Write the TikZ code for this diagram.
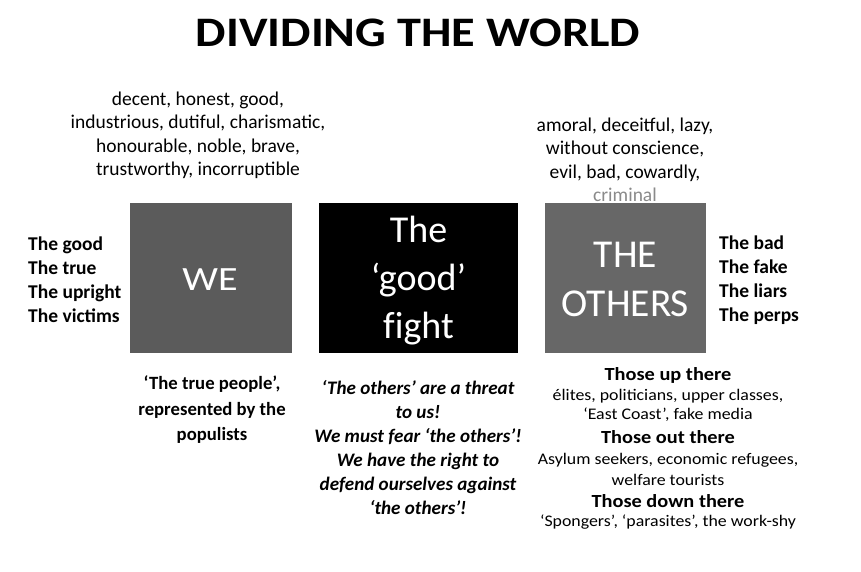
\documentclass[tikz,border=0pt]{standalone}
\usepackage{fontspec}
\setmainfont{Carlito}
\newfontfamily\titlefont{Carlito}[FakeStretch=1.15]
\newfontfamily\subfont{Carlito}[FakeStretch=1.1]
\newfontfamily\nolig{Carlito}[Ligatures=CommonOff]
\definecolor{wegray}{HTML}{5B5B5B}
\definecolor{othgray}{HTML}{676767}
\definecolor{crimgray}{HTML}{8A8A8A}
\begin{document}
\begin{tikzpicture}[x=1pt,y=-1pt,
  box/.style={draw=none,minimum height=150pt,inner sep=0pt},
  boxtext/.style={inner sep=0pt,text=white,align=center},
  small/.style={inner sep=0pt,align=center,font=\fontsize{19.5}{23.5}\selectfont},
  label/.style={inner sep=0pt,align=left,anchor=west,font=\fontsize{19.5}{24}\selectfont\bfseries},
  head/.style={inner sep=0pt,font=\subfont\fontsize{18.5}{20}\selectfont\bfseries},
  sub/.style={inner sep=0pt,align=center,font=\subfont\fontsize{16.2}{20}\selectfont}]
\useasboundingbox[fill=white] (0,0) rectangle (861,572);
\node[inner sep=0pt,anchor=base,font=\titlefont\fontsize{42}{48}\selectfont\bfseries] (title) at (418,47) {DIVIDING THE WORLD};

\node[box,fill=wegray,minimum width=162pt] (we) at (211,278) {};
\node[box,fill=black,minimum width=199pt] (fight) at (418.5,278) {};
\node[box,fill=othgray,minimum width=161pt] (others) at (625.5,278) {};
\node[boxtext,anchor=base,font=\fontsize{34}{40}\selectfont] (wet) at (210,290.5) {\scalebox{1.18}[1]{WE}};
\node[boxtext,font=\nolig\fontsize{38}{48}\selectfont] (fightt) at (418.5,281) {The\\‘good’\\fight};
\node[boxtext,font=\fontsize{39.5}{49}\selectfont] (otherst) at (625.5,279) {THE\\OTHERS};

\node[small] (weadj) at (198,135.5) {decent, honest, good,\\industrious, dutiful, charismatic,\\honourable, noble, brave,\\trustworthy, incorruptible};
\node[small] (othadj) at (625,149.5) {amoral, deceitful, lazy,\\without conscience,\\evil, bad, cowardly,};
\node[small,text=crimgray] (crim) at (625,195) {criminal};

\node[label] (welab) at (28,279.5) {The good\\The true\\The upright\\The victims};
\node[label] (othlab) at (719,280) {The bad\\The fake\\The liars\\The perps};

\node[small,font=\fontsize{18.7}{25.5}\selectfont\bfseries] (wepeople) at (212,410) {‘The true people’,\\represented by the\\populists};
\node[small,font=\fontsize{19.1}{24}\selectfont\bfseries\itshape] (threat) at (418,447.5) {‘The others’ are a threat\\to us!\\We must fear ‘the others’!\\We have the right to\\defend ourselves against\\‘the others’!};

\node[head] (up) at (668,375) {Those up there};
\node[sub,font=\subfont\fontsize{16.2}{19}\selectfont] (upsub) at (668,405) {élites, politicians, upper classes,\\‘East Coast’, fake media};
\node[head] (out) at (668,437) {Those out there};
\node[sub,font=\subfont\fontsize{16.2}{21}\selectfont] (outsub) at (668,469.5) {Asylum seekers, economic refugees,\\welfare tourists};
\node[head] (down) at (668,501) {Those down there};
\node[sub] (downsub) at (668,522) {‘Spongers’, ‘parasites’, the work-shy};
\end{tikzpicture}
\end{document}
